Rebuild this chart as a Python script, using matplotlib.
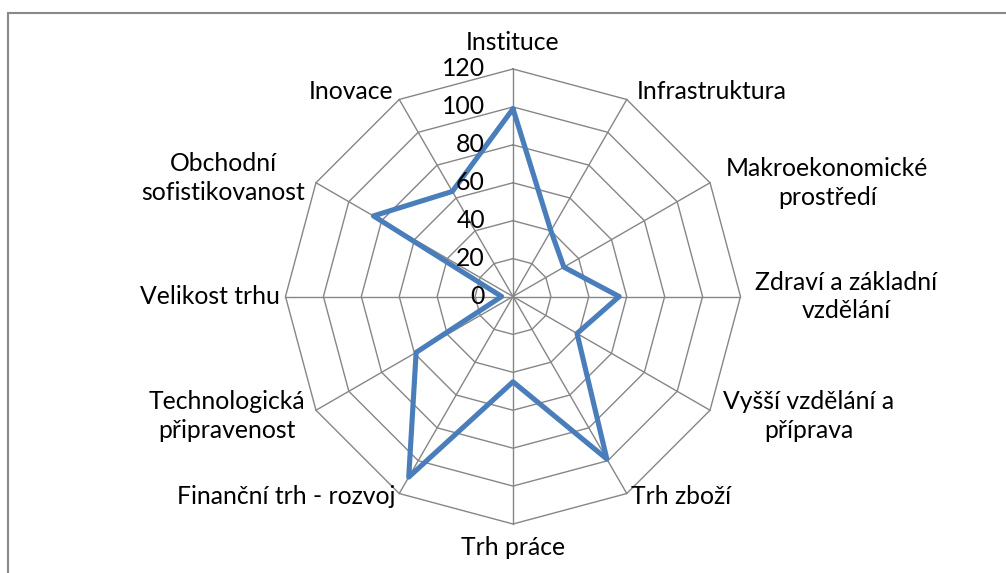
import numpy as np
import matplotlib
matplotlib.use("Agg")
import matplotlib.pyplot as plt
from matplotlib.patches import Rectangle

# ---- data ----
categories = [
    "Instituce", "Infrastruktura", "Makroekonomické\nprostředí",
    "Zdraví a základní\nvzdělání", "Vyšší vzdělání a\npříprava", "Trh zboží",
    "Trh práce", "Finanční trh - rozvoj", "Technologická\npřipravenost",
    "Velikost trhu", "Obchodní\nsofistikovanost", "Inovace",
]
values = [99, 40, 31, 56, 39, 99, 45, 110, 59, 6, 85, 64]
ring_levels = [0, 20, 40, 60, 80, 100, 120]
tick_labels = ["0", "20", "40", "60", "80", "100", "120"]

# ---- styling / layout ----
W, H, DPI = 1006, 573, 100
CX, CY = 513, 296.5          # centre in pixels (from top-left)
RMAX_PX = 227.5
RMAX = 120
s = RMAX_PX / RMAX           # px per data unit

FONT = ["Lato", "DejaVu Sans"]
FS = 17.8
GRID_C = "#868686"
LINE_C = "#4A7EBB"

fig = plt.figure(figsize=(W / DPI, H / DPI), dpi=DPI)
ax = fig.add_axes([0, 0, 1, 1])
ax.set_xlim(-CX / s, (W - CX) / s)
ax.set_ylim(-(H - CY) / s, CY / s)
ax.set_aspect("auto")
ax.axis("off")

n = len(categories)
theta = np.arange(n) * 2 * np.pi / n     # clockwise from top

def xy(r, th):
    return np.asarray(r) * np.sin(th), np.asarray(r) * np.cos(th)

# polygon rings
th_closed = np.append(theta, theta[0])
for lv in ring_levels[1:]:
    x, y = xy(np.full(n + 1, lv), th_closed)
    ax.plot(x, y, color=GRID_C, lw=1.0, zorder=1)
# spokes
for th in theta:
    x, y = xy([0, RMAX], [th, th])
    ax.plot(x, y, color=GRID_C, lw=1.0, zorder=1)

# data series
v_closed = np.append(values, values[0])
x, y = xy(v_closed, th_closed)
ax.plot(x, y, color=LINE_C, lw=3.7, solid_joinstyle="round",
        solid_capstyle="round", zorder=3)

# radial tick labels
for lv, lab in zip(ring_levels, tick_labels):
    ax.annotate(lab, xy=(0, lv), xytext=(-28, 0), textcoords="offset pixels",
                ha="right", va="center", fontsize=FS, family=FONT, color="black",
                zorder=4)

# category labels: (ha, va, dx px, dy px)
label_pos = [
    ("center", "baseline", 0, 19),
    ("left", "center", 10, 8),
    ("left", "center", 16, 0),
    ("left", "center", 15, 0),
    ("left", "center", 13, -6),
    ("left", "center", 4, -3),
    ("center", "top", 0, -12),
    ("right", "center", -4, -3),
    ("right", "center", -11, -6),
    ("right", "center", -6, 0),
    ("right", "center", -11, 5),
    ("right", "center", -6, 8),
]
for cat, th, (ha, va, dx, dy) in zip(categories, theta, label_pos):
    px, py = xy(RMAX, th)
    ax.annotate(cat, xy=(px, py), xytext=(dx, dy), textcoords="offset pixels",
                ha=ha, va=va, multialignment="center", linespacing=1.3,
                fontsize=FS, family=FONT, color="black")

# chart-area border (cropped at right/bottom)
fig.patches.append(Rectangle((7.5 / W, -0.1), 1.2, (H - 12.7) / H + 0.1,
                             transform=fig.transFigure, fill=False,
                             edgecolor="#898989", lw=1.5))

fig.savefig("out.png", dpi=DPI, facecolor="white")
